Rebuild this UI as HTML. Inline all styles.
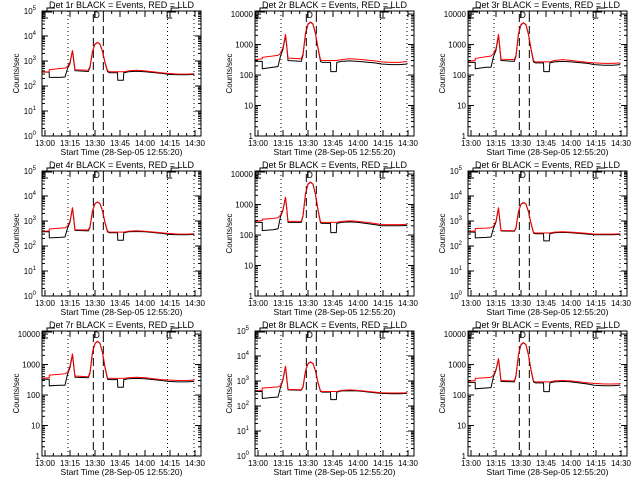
<!DOCTYPE html>
<html><head><meta charset="utf-8"><style>
html,body{margin:0;padding:0;background:#fff;}
svg text{font-family:"Liberation Sans",sans-serif;fill:#000;}
</style></head><body>
<svg id="chart" width="640" height="480" xmlns="http://www.w3.org/2000/svg"></svg>
<script>
// minutes after 13:00
const times = [-1.7, 2.5, 2.6, 9, 12, 13.5, 15, 16.5, 17.2, 18, 26, 27, 28.5, 30, 31.5, 33, 34.5, 36, 37.5, 38.5, 43.5, 43.7, 47, 47.3, 50, 55, 60, 70, 74, 80, 85, 89.5];
const xTickLabels = ["13:00","13:15","13:30","13:45","14:00","14:15","14:30"];
const xTickMinutes = [0, 15, 30, 45, 60, 75, 90];
const dottedLines = [13.8, 73.5, 89.4];
const dashedLines = [29, 35];
const panelNames = ["1r","2r","3r","4r","5r","6r","7r","8r","9r"];
const panelAxisType = ["exp","plain","plain","exp","plain","exp","plain","exp","plain"];
const red1 = [360,370,450,500,520,600,900,2700,1200,450,430,600,2500,4800,5600,4800,2500,900,420,370,370,370,370,370,400,430,400,340,320,300,300,310];
const blk1 = [360,360,220,220,230,500,800,2600,1000,410,380,550,2400,4700,5500,4700,2400,850,380,340,340,170,170,340,370,390,370,320,290,280,280,290];
const red2 = [320,340,380,420,440,520,800,2200,1000,360,340,500,2400,4800,5500,4800,2300,800,320,300,300,300,300,300,320,340,330,290,270,260,260,280];
const blk2 = [280,280,160,180,190,420,700,2000,900,300,280,450,2200,4600,5400,4600,2200,750,280,260,260,130,130,260,280,290,280,250,230,220,220,230];
const red3 = [280,300,350,400,420,500,750,2200,900,330,320,450,2300,4600,5200,4500,2200,750,300,270,270,270,270,270,300,320,300,260,250,240,240,250];
const blk3 = [260,260,160,180,180,400,650,2000,800,300,280,420,2200,4400,5100,4400,2100,700,270,250,250,130,130,250,270,280,270,240,220,210,210,220];
const red4 = [380,400,480,520,540,620,1000,3500,1400,450,440,600,2600,5000,5800,5000,2600,900,400,360,360,360,360,360,390,410,390,340,320,300,300,310];
const blk4 = [370,370,210,220,230,520,900,3300,1200,420,400,560,2500,4900,5700,4900,2500,850,370,340,340,170,170,340,370,380,370,320,290,280,280,290];
const red5 = [280,300,330,350,370,450,700,1800,800,280,280,450,2300,4800,5500,4700,2200,700,270,260,260,260,260,260,280,290,280,240,220,220,220,225];
const blk5 = [260,260,140,150,160,400,650,1700,750,260,260,420,2200,4600,5400,4600,2100,650,250,240,240,120,120,240,260,270,260,220,200,200,200,205];
const red6 = [380,400,500,520,540,620,1000,3500,1300,420,410,560,2500,4800,5500,4800,2400,850,350,330,330,330,330,330,360,370,360,320,300,300,300,310];
const blk6 = [360,360,210,220,230,520,900,3300,1100,400,390,520,2400,4700,5400,4700,2300,800,330,310,310,160,160,310,340,350,340,300,280,280,280,290];
const red7 = [350,370,450,480,500,550,900,2300,1000,420,400,560,2600,5000,5800,5000,2500,850,360,350,350,350,350,350,370,380,370,320,310,300,300,310];
const blk7 = [330,330,200,210,210,480,800,2100,900,380,370,520,2500,4900,5700,4900,2400,800,330,320,320,180,180,320,340,350,340,300,280,270,270,280];
const red8 = [400,420,520,560,580,650,1200,4000,1500,460,450,600,2600,5000,5800,5000,2600,900,400,380,380,380,380,380,420,440,420,360,340,330,330,340];
const blk8 = [380,380,200,220,230,560,1100,3800,1300,440,430,560,2500,4900,5700,4900,2500,850,380,360,360,180,180,360,400,410,400,340,320,310,310,320];
const red9 = [280,300,350,370,380,450,700,1600,750,300,290,450,2200,4600,5300,4500,2100,700,290,270,270,270,270,270,290,300,290,250,240,230,230,235];
const blk9 = [260,260,160,170,175,400,650,1500,700,280,270,420,2100,4400,5200,4400,2000,650,270,250,250,130,130,250,270,280,270,230,210,200,200,210];
const redSeries = [red1,red2,red3,red4,red5,red6,red7,red8,red9];
const blackSeries = [blk1,blk2,blk3,blk4,blk5,blk6,blk7,blk8,blk9];

const NS = "http://www.w3.org/2000/svg";
const svg = document.getElementById("chart");
function mk(tag, attrs, parent) {
  const e = document.createElementNS(NS, tag);
  for (const k in attrs) e.setAttribute(k, attrs[k]);
  (parent || svg).appendChild(e);
  return e;
}
const W = 159, H = 125;
for (let p = 0; p < 9; p++) {
  const col = p % 3, row = Math.floor(p / 3);
  const L = 42 + col * 213, T = 11 + row * 160;
  const g = mk("g", {});
  
  
  const isExp = panelAxisType[p] === "exp";
  const yMax = isExp ? 5 : 4.1;
  const xS = t => L + 3 + t * 25 / 15;
  const yS = v => T + H - Math.log10(v) / yMax * H;
  dottedLines.forEach(t => {
    const l = mk("line", {x1: xS(t), x2: xS(t), y1: T, y2: T + H, stroke: "#000", "stroke-width": 1, "stroke-dasharray": "1,3"}, g);
    
    
  });
  dashedLines.forEach(t => {
    const l = mk("line", {x1: xS(t), x2: xS(t), y1: T + 3, y2: T + H, stroke: "#000", "stroke-width": 1, "stroke-dasharray": "8,4"}, g);
    
    
  });
  [0, 74.5].forEach(t => {
    const pth = mk("path", {d: `M${xS(t)-2},${T+7} L${xS(t)-2},${T+1} L${xS(t)+7},${T+1} M${xS(t)-2},${T+7} L${xS(t)+3},${T+7} M${xS(t)+2},${T+1} L${xS(t)+2},${T-3} L${xS(t)+10},${T-3}`, fill: "none", stroke: "#000", "stroke-width": 1}, g);
    
    
  });
  const dm = mk("text", {x: xS(31), y: T + 7, "font-size": 9, "text-anchor": "middle"}, g);
  dm.textContent = "D";
  
  
  const mkLine = (vals, color, name) => {
    const pts = times.map((t, i) => xS(t).toFixed(1) + "," + yS(vals[i]).toFixed(1)).join(" ");
    const pl = mk("polyline", {points: pts, fill: "none", stroke: color, "stroke-width": 1}, g);
    
    
  };
  mkLine(blackSeries[p], "#000", "events-series");
  mkLine(redSeries[p], "#f00", "lld-series");
  const box = mk("rect", {x: L, y: T, width: W, height: H, fill: "none", stroke: "#000", "stroke-width": 1}, g);
  
  
  for (let d = 0; d <= Math.floor(yMax); d++) {
    const y = yS(Math.pow(10, d));
    mk("line", {x1: L, x2: L + 6, y1: y, y2: y, stroke: "#000"}, g);
    mk("line", {x1: L + W - 6, x2: L + W, y1: y, y2: y, stroke: "#000"}, g);
    for (let m = 2; m < 10; m++) {
      const v = m * Math.pow(10, d);
      if (Math.log10(v) > yMax) break;
      const ym = yS(v);
      mk("line", {x1: L, x2: L + 3, y1: ym, y2: ym, stroke: "#000"}, g);
      mk("line", {x1: L + W - 3, x2: L + W, y1: ym, y2: ym, stroke: "#000"}, g);
    }
    const tx = mk("text", {x: L - 2, y: y + 3, "font-size": 8, "text-anchor": "end"}, g);
    
    
    if (isExp) {
      tx.textContent = "10";
      const sup = mk("tspan", {dy: -4, "font-size": 6}, tx);
      sup.textContent = String(d);
      tx.setAttribute("x", L - 6);
    } else {
      tx.textContent = String(Math.pow(10, d));
    }
  }
  xTickMinutes.forEach((t, i) => {
    const x = xS(t);
    mk("line", {x1: x, x2: x, y1: T + H, y2: T + H - 6, stroke: "#000"}, g);
    mk("line", {x1: x, x2: x, y1: T, y2: T + 6, stroke: "#000"}, g);
    for (let m = 5; m < 15; m += 5) {
      const xm = xS(t + m);
      if (xm < L + W) {
        mk("line", {x1: xm, x2: xm, y1: T + H, y2: T + H - 3, stroke: "#000"}, g);
        mk("line", {x1: xm, x2: xm, y1: T, y2: T + 3, stroke: "#000"}, g);
      }
    }
    const lt = mk("text", {x: x, y: T + H + 10, "font-size": 8, "text-anchor": "middle"}, g);
    lt.textContent = xTickLabels[i];
    
    
  });
  const ttl = mk("text", {x: L + W / 2, y: T - 3, "font-size": 9, "text-anchor": "middle"}, g);
  ttl.textContent = "Det " + panelNames[p] + " BLACK = Events, RED = LLD";
  
  
  const xt = mk("text", {x: L + W / 2, y: T + H + 19, "font-size": 8.5, "text-anchor": "middle"}, g);
  xt.textContent = "Start Time (28-Sep-05 12:55:20)";
  
  
  const yt = mk("text", {x: 0, y: 0, "font-size": 8, "text-anchor": "middle", transform: `translate(${L - 23},${T + H / 2}) rotate(-90)`}, g);
  yt.textContent = "Counts/sec";
  
  
}
</script>
</body></html>
